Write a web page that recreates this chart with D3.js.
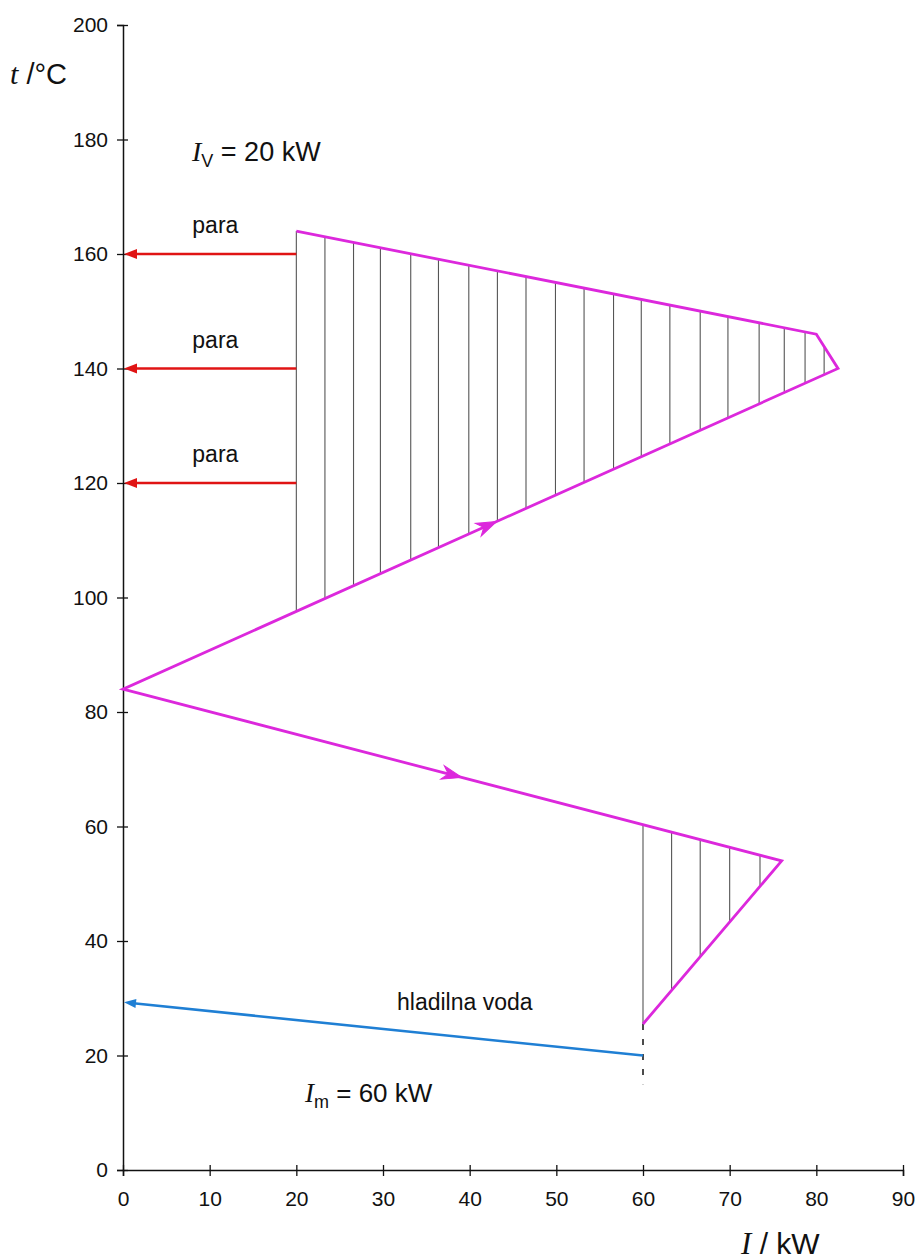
<!DOCTYPE html>
<html>
<head>
<meta charset="utf-8">
<script src="https://cdn.jsdelivr.net/npm/d3@7"></script>
<style>
  html, body { margin: 0; padding: 0; background: #fff; }
  svg { display: block; }
  text { font-family: "Liberation Sans", Arial, sans-serif; fill: #111; }
  .it { font-family: "Liberation Serif", "Times New Roman", serif; font-style: italic; }
</style>
</head>
<body>
<svg id="chart" width="918" height="1260"></svg>
<script>
// Axis ticks
const xTicks = [0, 10, 20, 30, 40, 50, 60, 70, 80, 90];
const yTicks = [0, 20, 40, 60, 80, 100, 120, 140, 160, 180, 200];

// Process stream profile (heat flow in kW, temperature in °C)
const profileI = [20, 80, 82.5, 0, 76, 60];
const profileT = [164, 146, 140, 84, 54, 25.5];

// Steam draw-off levels (°C) and the heat flow where they start
const steamLevels = [160, 140, 120];
const steamStart = 20;

// Cooling water line: heat flow (kW) and temperature (°C)
const waterI = [60, 0];
const waterT = [20, 29.3];

// Positions of the vertical hatch lines (kW)
const hatchUpper = [20, 23.3, 26.6, 29.7, 33.2, 36.4, 39.9, 43.2, 46.5, 49.9, 53.2, 56.6, 59.8, 63.1, 66.6, 69.8, 73.4, 76.3, 78.7, 80.9];
const hatchLower = [60, 63.3, 66.6, 70, 73.5];

// Flow direction arrows along the profile: segment index and heat flow at tip
const flowArrowSeg = [2, 3];
const flowArrowI = [43.1, 39.1];

// Dashed marker under the cooling water start
const dashI = 60;
const dashT = [25.5, 15];

const svg = d3.select("#chart");
const x = d3.scaleLinear().domain([0, 90]).range([123, 903]);
const y = d3.scaleLinear().domain([0, 200]).range([1170, 25]);

const MAG = "#dc28dc", RED = "#e01414", BLUE = "#1f7fd4", HATCH = "#555";

const profile = profileI.map((v, i) => [v, profileT[i]]);

// linear interpolation of temperature along a polyline at a given heat flow
function interp(poly, xi) {
  for (let i = 0; i < poly.length - 1; i++) {
    const [x0, y0] = poly[i], [x1, y1] = poly[i + 1];
    const lo = Math.min(x0, x1), hi = Math.max(x0, x1);
    if (xi >= lo && xi <= hi && x1 !== x0) return y0 + (y1 - y0) * (xi - x0) / (x1 - x0);
  }
  return null;
}

// Hatching
const upperTop = [profile[0], profile[1], profile[2]];
const upperBot = [profile[3], profile[2]];
const lowerTop = [profile[3], profile[4]];
const lowerBot = [profile[5], profile[4]];

const hatch = svg.append("g").attr("stroke", HATCH).attr("stroke-width", 1.1);
hatchUpper.forEach(h => {
  hatch.append("line")
    .attr("x1", x(h)).attr("x2", x(h))
    .attr("y1", y(interp(upperTop, h))).attr("y2", y(interp(upperBot, h)));
});
hatchLower.forEach(h => {
  hatch.append("line")
    .attr("x1", x(h)).attr("x2", x(h))
    .attr("y1", y(interp(lowerTop, h))).attr("y2", y(interp(lowerBot, h)));
});

// Dashed marker
svg.append("line")
  .attr("x1", x(dashI)).attr("x2", x(dashI))
  .attr("y1", y(dashT[0])).attr("y2", y(dashT[1]))
  .attr("stroke", "#111").attr("stroke-width", 1.5)
  .attr("stroke-dasharray", "6,9");

// Axes
const yAxis = svg.append("g")
  .attr("transform", `translate(${x(0)},0)`)
  .call(d3.axisLeft(y).tickValues(yTicks).tickSizeOuter(0).tickSize(6).tickPadding(9));
const xAxis = svg.append("g")
  .attr("transform", `translate(0,${y(0)})`)
  .call(d3.axisBottom(x).tickValues(xTicks).tickSizeOuter(0).tickSize(6).tickPadding(15));
[yAxis, xAxis].forEach(g => {
  g.select(".domain").attr("stroke", "#111").attr("stroke-width", 1.5);
  g.selectAll(".tick line").attr("stroke", "#111").attr("stroke-width", 1.3);
  g.selectAll(".tick text").attr("font-size", 21).attr("font-family", "Liberation Sans, Arial, sans-serif").attr("fill", "#111");
});
yAxis.selectAll(".tick line").attr("x1", 5);
xAxis.selectAll(".tick line").attr("y1", -5);

// Steam arrows
steamLevels.forEach(t => {
  svg.append("line")
    .attr("x1", x(steamStart)).attr("x2", x(0) + 8)
    .attr("y1", y(t)).attr("y2", y(t))
    .attr("stroke", RED).attr("stroke-width", 2.4);
  svg.append("path")
    .attr("d", "M0,0 L13,-5 L13,5 Z")
    .attr("transform", `translate(${x(0) + 1},${y(t)})`)
    .attr("fill", RED);
  svg.append("text")
    .attr("x", x(steamStart) - 81).attr("y", y(t) - 21)
    .attr("text-anchor", "middle").attr("font-size", 23)
    .text("para");
});

// Cooling water arrow
const w0 = [x(waterI[0]), y(waterT[0])], w1 = [x(waterI[1]), y(waterT[1])];
const wAng = Math.atan2(w1[1] - w0[1], w1[0] - w0[0]);
svg.append("line")
  .attr("x1", w0[0]).attr("y1", w0[1])
  .attr("x2", w1[0] - 8 * Math.cos(wAng)).attr("y2", w1[1] - 8 * Math.sin(wAng))
  .attr("stroke", BLUE).attr("stroke-width", 2.5);
svg.append("path")
  .attr("d", "M0,0 L-12,-4.5 L-12,4.5 Z")
  .attr("transform", `translate(${w1[0] + 1},${w1[1]}) rotate(${wAng * 180 / Math.PI})`)
  .attr("fill", BLUE);

// Process profile line
svg.append("path")
  .datum(profile)
  .attr("d", d3.line().x(d => x(d[0])).y(d => y(d[1])))
  .attr("fill", "none").attr("stroke", MAG).attr("stroke-width", 2.8)
  .attr("stroke-linejoin", "miter");

// Flow direction arrows on the profile
flowArrowSeg.forEach((s, i) => {
  const a = profile[s], b = profile[s + 1];
  const xi = flowArrowI[i];
  const ti = interp([a, b], xi);
  // the rising branch is travelled from low to high heat flow
  const dir = s === 2
    ? Math.atan2(y(a[1]) - y(b[1]), x(a[0]) - x(b[0]))
    : Math.atan2(y(b[1]) - y(a[1]), x(b[0]) - x(a[0]));
  svg.append("path")
    .attr("d", "M0,0 L-20,-7 L-14,0 L-20,7 Z")
    .attr("transform", `translate(${x(xi)},${y(ti)}) rotate(${dir * 180 / Math.PI})`)
    .attr("fill", MAG).attr("stroke", MAG).attr("stroke-width", 1);
});

// Axis titles
const tTitle = svg.append("text").attr("x", 10).attr("y", 84).attr("font-size", 29);
tTitle.append("tspan").attr("class", "it").attr("font-size", 30).text("t");
tTitle.append("tspan").text(" /°C");

const iTitle = svg.append("text").attr("x", 741).attr("y", 1254).attr("font-size", 30);
iTitle.append("tspan").attr("class", "it").attr("font-size", 31).text("I");
iTitle.append("tspan").text(" / kW");

// Annotations
const iv = svg.append("text").attr("x", 192).attr("y", 161).attr("font-size", 27);
iv.append("tspan").attr("class", "it").attr("font-size", 28).text("I");
iv.append("tspan").attr("font-size", 18).attr("dy", 6).text("V");
iv.append("tspan").attr("dy", -6).text(" = 20 kW");

const im = svg.append("text").attr("x", 305).attr("y", 1102).attr("font-size", 26);
im.append("tspan").attr("class", "it").attr("font-size", 27).text("I");
im.append("tspan").attr("font-size", 18).attr("dy", 6).text("m");
im.append("tspan").attr("dy", -6).text(" = 60 kW");

svg.append("text").attr("x", 397).attr("y", 1010).attr("font-size", 23).text("hladilna voda");
</script>
</body>
</html>
